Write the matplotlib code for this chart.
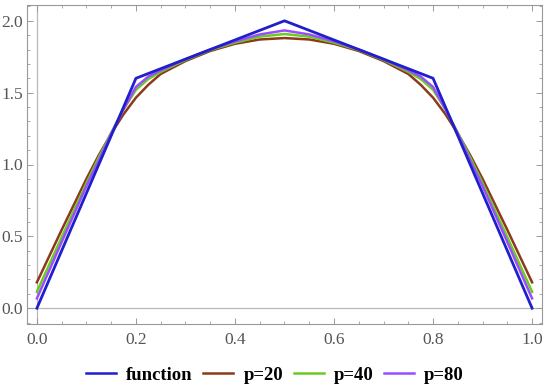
import matplotlib
matplotlib.use("Agg")
import matplotlib.pyplot as plt
from matplotlib.ticker import MultipleLocator
from matplotlib.lines import Line2D

# sample positions
x = [0.0, 0.05, 0.1, 0.125, 0.15, 0.175, 0.2, 0.225, 0.25, 0.3, 0.35, 0.4, 0.45, 0.5,
     0.55, 0.6, 0.65, 0.7, 0.75, 0.775, 0.8, 0.825, 0.85, 0.875, 0.9, 0.95, 1.0]

# the piecewise linear target function
func_x = [0.0, 0.2, 0.5, 0.8, 1.0]
func_y = [0.0, 1.6, 2.0, 1.6, 0.0]

p20 = [0.18, 0.545, 0.90, 1.065, 1.215, 1.35, 1.465, 1.555, 1.63, 1.72, 1.79, 1.84, 1.87, 1.88,
       1.87, 1.84, 1.79, 1.72, 1.63, 1.555, 1.465, 1.35, 1.215, 1.065, 0.90, 0.545, 0.18]
p40 = [0.114, 0.494, 0.87, 1.05, 1.22, 1.385, 1.52, 1.595, 1.645, 1.728, 1.797, 1.848, 1.89, 1.908,
       1.89, 1.848, 1.797, 1.728, 1.645, 1.595, 1.52, 1.385, 1.22, 1.05, 0.87, 0.494, 0.114]
p80 = [0.068, 0.46, 0.85, 1.03, 1.215, 1.385, 1.54, 1.612, 1.655, 1.733, 1.80, 1.857, 1.905, 1.933,
       1.905, 1.857, 1.80, 1.733, 1.655, 1.612, 1.54, 1.385, 1.215, 1.03, 0.85, 0.46, 0.068]

labels = ["function", "p=20", "p=40", "p=80"]
colors = ["#1f1fcc", "#8b3a1a", "#6acc1f", "#9a4dff"]

plt.rcParams["font.family"] = ["Liberation Serif", "DejaVu Serif"]

fig = plt.figure(figsize=(5.5, 3.91), dpi=100)
ax = fig.add_axes([27 / 550, 1 - 324 / 391, 515 / 550, 319 / 391])

# Mathematica style axes through the origin
ax.axhline(0, color="#b8b8b8", lw=0.9, zorder=1)
ax.axvline(0, color="#b8b8b8", lw=0.9, zorder=1)

ax.plot(func_x, func_y, color=colors[0], lw=2.0, zorder=5)
ax.plot(x, p20, color=colors[1], lw=1.8, zorder=2)
ax.plot(x, p40, color=colors[2], lw=1.8, zorder=3)
ax.plot(x, p80, color=colors[3], lw=1.8, zorder=4)

ax.set_xlim(-0.02, 1.02)
ax.set_ylim(-0.11, 2.11)

ax.xaxis.set_major_locator(MultipleLocator(0.2))
ax.xaxis.set_minor_locator(MultipleLocator(0.05))
ax.yaxis.set_major_locator(MultipleLocator(0.5))
ax.yaxis.set_minor_locator(MultipleLocator(0.1))
ax.xaxis.set_major_formatter(lambda v, pos: f"{v:.1f}")
ax.yaxis.set_major_formatter(lambda v, pos: f"{v:.1f}")

for s in ax.spines.values():
    s.set_color("#999999")
    s.set_linewidth(0.8)
ax.tick_params(which="both", direction="in", top=True, right=True, color="#999999",
               labelcolor="#555555", labelsize=12.5)
ax.tick_params(which="major", length=4.5, width=0.7)
ax.tick_params(which="minor", length=2.5, width=0.6)
ax.tick_params(axis="x", which="major", pad=6)
ax.tick_params(axis="y", which="major", pad=3)

handles = [Line2D([], [], color=c, lw=1.8) for c in colors]
fig.legend(handles, labels, loc="center", bbox_to_anchor=(0.5, 1 - 375 / 391), ncol=4,
           frameon=False, handlelength=1.6, handletextpad=0.55, columnspacing=0.55,
           prop={"weight": "bold", "size": 13.5})

fig.savefig("out.png", dpi=100)
